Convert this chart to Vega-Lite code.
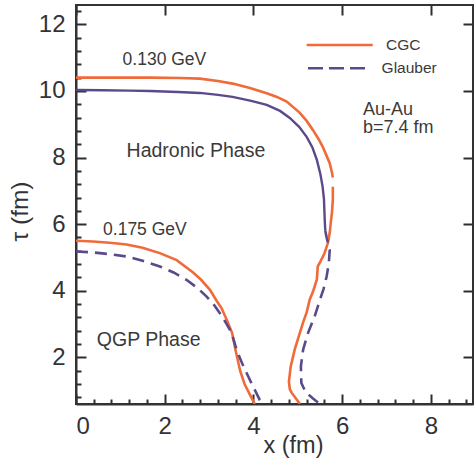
{
  "$schema": "https://vega.github.io/schema/vega-lite/v6.json",
  "width": 397,
  "height": 399,
  "autosize": "none",
  "padding": {"left": 76, "top": 5, "right": 1, "bottom": 56},
  "background": "white",
  "config": {
    "font": "Liberation Sans",
    "view": {"stroke": "#333333", "strokeWidth": 2},
    "axis": {"grid": false, "tickColor": "#2E2E2E", "tickWidth": 2, "labelColor": "#333333", "titleColor": "#333333", "titleFontWeight": "normal"}
  },
  "datasets": {
    "curves": [
      {"curve": "cgc_130a", "model": "CGC", "n": 1, "x": 0, "y": 10.4},
      {"curve": "cgc_130a", "model": "CGC", "n": 2, "x": 0.53, "y": 10.4},
      {"curve": "cgc_130a", "model": "CGC", "n": 3, "x": 1.1, "y": 10.4},
      {"curve": "cgc_130a", "model": "CGC", "n": 4, "x": 1.66, "y": 10.4},
      {"curve": "cgc_130a", "model": "CGC", "n": 5, "x": 2.34, "y": 10.39},
      {"curve": "cgc_130a", "model": "CGC", "n": 6, "x": 2.79, "y": 10.37},
      {"curve": "cgc_130a", "model": "CGC", "n": 7, "x": 3.2, "y": 10.3},
      {"curve": "cgc_130a", "model": "CGC", "n": 8, "x": 3.53, "y": 10.22},
      {"curve": "cgc_130a", "model": "CGC", "n": 9, "x": 3.92, "y": 10.09},
      {"curve": "cgc_130a", "model": "CGC", "n": 10, "x": 4.3, "y": 9.93},
      {"curve": "cgc_130a", "model": "CGC", "n": 11, "x": 4.53, "y": 9.82},
      {"curve": "cgc_130a", "model": "CGC", "n": 12, "x": 4.75, "y": 9.68},
      {"curve": "cgc_130a", "model": "CGC", "n": 13, "x": 5.04, "y": 9.35},
      {"curve": "cgc_130a", "model": "CGC", "n": 14, "x": 5.2, "y": 9.1},
      {"curve": "cgc_130a", "model": "CGC", "n": 15, "x": 5.34, "y": 8.83},
      {"curve": "cgc_130a", "model": "CGC", "n": 16, "x": 5.47, "y": 8.55},
      {"curve": "cgc_130a", "model": "CGC", "n": 17, "x": 5.56, "y": 8.33},
      {"curve": "cgc_130a", "model": "CGC", "n": 18, "x": 5.65, "y": 8.05},
      {"curve": "cgc_130a", "model": "CGC", "n": 19, "x": 5.72, "y": 7.83},
      {"curve": "cgc_130a", "model": "CGC", "n": 20, "x": 5.77, "y": 7.55},
      {"curve": "cgc_130a", "model": "CGC", "n": 21, "x": 5.79, "y": 7.4},
      {"curve": "cgc_130b", "model": "CGC", "n": 22, "x": 5.79, "y": 7.12},
      {"curve": "cgc_130b", "model": "CGC", "n": 23, "x": 5.79, "y": 6.73},
      {"curve": "cgc_130b", "model": "CGC", "n": 24, "x": 5.77, "y": 6.34},
      {"curve": "cgc_130b", "model": "CGC", "n": 25, "x": 5.74, "y": 6.0},
      {"curve": "cgc_130b", "model": "CGC", "n": 26, "x": 5.72, "y": 5.74},
      {"curve": "cgc_130b", "model": "CGC", "n": 27, "x": 5.68, "y": 5.44},
      {"curve": "cgc_130b", "model": "CGC", "n": 28, "x": 5.6, "y": 5.12},
      {"curve": "cgc_130b", "model": "CGC", "n": 29, "x": 5.5, "y": 4.85},
      {"curve": "cgc_130b", "model": "CGC", "n": 30, "x": 5.45, "y": 4.73},
      {"curve": "cgc_130b", "model": "CGC", "n": 31, "x": 5.43, "y": 4.34},
      {"curve": "cgc_130b", "model": "CGC", "n": 32, "x": 5.35, "y": 4.0},
      {"curve": "cgc_130b", "model": "CGC", "n": 33, "x": 5.27, "y": 3.74},
      {"curve": "cgc_130b", "model": "CGC", "n": 34, "x": 5.2, "y": 3.35},
      {"curve": "cgc_130b", "model": "CGC", "n": 35, "x": 5.12, "y": 3.05},
      {"curve": "cgc_130b", "model": "CGC", "n": 36, "x": 5.05, "y": 2.75},
      {"curve": "cgc_130b", "model": "CGC", "n": 37, "x": 4.93, "y": 2.23},
      {"curve": "cgc_130b", "model": "CGC", "n": 38, "x": 4.84, "y": 1.72},
      {"curve": "cgc_130b", "model": "CGC", "n": 39, "x": 4.8, "y": 1.27},
      {"curve": "cgc_130b", "model": "CGC", "n": 40, "x": 4.82, "y": 1.05},
      {"curve": "cgc_130b", "model": "CGC", "n": 41, "x": 4.86, "y": 0.94},
      {"curve": "cgc_130b", "model": "CGC", "n": 42, "x": 4.95, "y": 0.78},
      {"curve": "cgc_130b", "model": "CGC", "n": 43, "x": 5.05, "y": 0.6},
      {"curve": "cgc_175", "model": "CGC", "n": 1, "x": 0, "y": 5.5},
      {"curve": "cgc_175", "model": "CGC", "n": 2, "x": 0.38, "y": 5.48},
      {"curve": "cgc_175", "model": "CGC", "n": 3, "x": 0.76, "y": 5.44},
      {"curve": "cgc_175", "model": "CGC", "n": 4, "x": 1.14, "y": 5.39},
      {"curve": "cgc_175", "model": "CGC", "n": 5, "x": 1.5, "y": 5.29},
      {"curve": "cgc_175", "model": "CGC", "n": 6, "x": 1.89, "y": 5.13},
      {"curve": "cgc_175", "model": "CGC", "n": 7, "x": 2.27, "y": 4.92},
      {"curve": "cgc_175", "model": "CGC", "n": 8, "x": 2.64, "y": 4.55},
      {"curve": "cgc_175", "model": "CGC", "n": 9, "x": 2.82, "y": 4.33},
      {"curve": "cgc_175", "model": "CGC", "n": 10, "x": 3.02, "y": 4.03},
      {"curve": "cgc_175", "model": "CGC", "n": 11, "x": 3.17, "y": 3.7},
      {"curve": "cgc_175", "model": "CGC", "n": 12, "x": 3.28, "y": 3.48},
      {"curve": "cgc_175", "model": "CGC", "n": 13, "x": 3.4, "y": 3.12},
      {"curve": "cgc_175", "model": "CGC", "n": 14, "x": 3.52, "y": 2.73},
      {"curve": "cgc_175", "model": "CGC", "n": 15, "x": 3.6, "y": 2.2},
      {"curve": "cgc_175", "model": "CGC", "n": 16, "x": 3.7, "y": 1.6},
      {"curve": "cgc_175", "model": "CGC", "n": 17, "x": 3.8, "y": 1.2},
      {"curve": "cgc_175", "model": "CGC", "n": 18, "x": 3.92, "y": 0.88},
      {"curve": "cgc_175", "model": "CGC", "n": 19, "x": 4.03, "y": 0.6},
      {"curve": "gl_130_top", "model": "Glauber", "n": 1, "x": 0, "y": 10.03},
      {"curve": "gl_130_top", "model": "Glauber", "n": 2, "x": 0.6, "y": 10.02},
      {"curve": "gl_130_top", "model": "Glauber", "n": 3, "x": 1.2, "y": 10.01},
      {"curve": "gl_130_top", "model": "Glauber", "n": 4, "x": 1.66, "y": 10.0},
      {"curve": "gl_130_top", "model": "Glauber", "n": 5, "x": 2.3, "y": 9.97},
      {"curve": "gl_130_top", "model": "Glauber", "n": 6, "x": 2.79, "y": 9.94},
      {"curve": "gl_130_top", "model": "Glauber", "n": 7, "x": 3.2, "y": 9.88},
      {"curve": "gl_130_top", "model": "Glauber", "n": 8, "x": 3.53, "y": 9.82},
      {"curve": "gl_130_top", "model": "Glauber", "n": 9, "x": 3.95, "y": 9.7},
      {"curve": "gl_130_top", "model": "Glauber", "n": 10, "x": 4.3, "y": 9.58},
      {"curve": "gl_130_top", "model": "Glauber", "n": 11, "x": 4.6, "y": 9.4},
      {"curve": "gl_130_top", "model": "Glauber", "n": 12, "x": 4.82, "y": 9.19},
      {"curve": "gl_130_top", "model": "Glauber", "n": 13, "x": 5.03, "y": 8.92},
      {"curve": "gl_130_top", "model": "Glauber", "n": 14, "x": 5.2, "y": 8.62},
      {"curve": "gl_130_top", "model": "Glauber", "n": 15, "x": 5.33, "y": 8.3},
      {"curve": "gl_130_top", "model": "Glauber", "n": 16, "x": 5.43, "y": 7.93},
      {"curve": "gl_130_top", "model": "Glauber", "n": 17, "x": 5.51, "y": 7.5},
      {"curve": "gl_130_top", "model": "Glauber", "n": 18, "x": 5.56, "y": 7.12},
      {"curve": "gl_130_top", "model": "Glauber", "n": 19, "x": 5.59, "y": 6.75},
      {"curve": "gl_130_top", "model": "Glauber", "n": 20, "x": 5.6, "y": 6.4},
      {"curve": "gl_130_top", "model": "Glauber", "n": 21, "x": 5.61, "y": 6.05},
      {"curve": "gl_130_top", "model": "Glauber", "n": 22, "x": 5.62, "y": 5.8},
      {"curve": "gl_130_low", "model": "Glauber", "n": 1, "x": 5.62, "y": 5.8},
      {"curve": "gl_130_low", "model": "Glauber", "n": 2, "x": 5.65, "y": 5.6},
      {"curve": "gl_130_low", "model": "Glauber", "n": 3, "x": 5.72, "y": 5.23},
      {"curve": "gl_130_low", "model": "Glauber", "n": 4, "x": 5.7, "y": 4.83},
      {"curve": "gl_130_low", "model": "Glauber", "n": 5, "x": 5.65, "y": 4.43},
      {"curve": "gl_130_low", "model": "Glauber", "n": 6, "x": 5.58, "y": 4.05},
      {"curve": "gl_130_low", "model": "Glauber", "n": 7, "x": 5.5, "y": 3.73},
      {"curve": "gl_130_low", "model": "Glauber", "n": 8, "x": 5.38, "y": 3.23},
      {"curve": "gl_130_low", "model": "Glauber", "n": 9, "x": 5.23, "y": 2.73},
      {"curve": "gl_130_low", "model": "Glauber", "n": 10, "x": 5.12, "y": 2.23},
      {"curve": "gl_130_low", "model": "Glauber", "n": 11, "x": 5.07, "y": 1.73},
      {"curve": "gl_130_low", "model": "Glauber", "n": 12, "x": 5.08, "y": 1.23},
      {"curve": "gl_130_low", "model": "Glauber", "n": 13, "x": 5.18, "y": 0.95},
      {"curve": "gl_130_low", "model": "Glauber", "n": 14, "x": 5.33, "y": 0.78},
      {"curve": "gl_130_low", "model": "Glauber", "n": 15, "x": 5.5, "y": 0.6},
      {"curve": "gl_175", "model": "Glauber", "n": 1, "x": 0, "y": 5.18},
      {"curve": "gl_175", "model": "Glauber", "n": 2, "x": 0.38, "y": 5.15},
      {"curve": "gl_175", "model": "Glauber", "n": 3, "x": 0.76, "y": 5.1},
      {"curve": "gl_175", "model": "Glauber", "n": 4, "x": 1.14, "y": 5.03},
      {"curve": "gl_175", "model": "Glauber", "n": 5, "x": 1.5, "y": 4.9},
      {"curve": "gl_175", "model": "Glauber", "n": 6, "x": 1.89, "y": 4.73},
      {"curve": "gl_175", "model": "Glauber", "n": 7, "x": 2.2, "y": 4.55},
      {"curve": "gl_175", "model": "Glauber", "n": 8, "x": 2.49, "y": 4.33},
      {"curve": "gl_175", "model": "Glauber", "n": 9, "x": 2.75, "y": 4.07},
      {"curve": "gl_175", "model": "Glauber", "n": 10, "x": 2.94, "y": 3.83},
      {"curve": "gl_175", "model": "Glauber", "n": 11, "x": 3.1, "y": 3.6},
      {"curve": "gl_175", "model": "Glauber", "n": 12, "x": 3.24, "y": 3.33},
      {"curve": "gl_175", "model": "Glauber", "n": 13, "x": 3.36, "y": 3.08},
      {"curve": "gl_175", "model": "Glauber", "n": 14, "x": 3.47, "y": 2.83},
      {"curve": "gl_175", "model": "Glauber", "n": 15, "x": 3.55, "y": 2.55},
      {"curve": "gl_175", "model": "Glauber", "n": 16, "x": 3.62, "y": 2.23},
      {"curve": "gl_175", "model": "Glauber", "n": 17, "x": 3.72, "y": 1.9},
      {"curve": "gl_175", "model": "Glauber", "n": 18, "x": 3.81, "y": 1.63},
      {"curve": "gl_175", "model": "Glauber", "n": 19, "x": 3.9, "y": 1.38},
      {"curve": "gl_175", "model": "Glauber", "n": 20, "x": 3.99, "y": 1.13},
      {"curve": "gl_175", "model": "Glauber", "n": 21, "x": 4.07, "y": 0.92},
      {"curve": "gl_175", "model": "Glauber", "n": 22, "x": 4.14, "y": 0.73},
      {"curve": "gl_175", "model": "Glauber", "n": 23, "x": 4.22, "y": 0.6}
    ]
  },
  "resolve": {"axis": {"x": "independent", "y": "independent"}},
  "layer": [
    {
      "data": {"name": "curves"},
      "transform": [{"filter": "datum.model === 'CGC'"}],
      "mark": {"type": "line", "color": "#F06A3A", "strokeWidth": 2.6, "clip": true},
      "encoding": {
        "x": {"field": "x", "type": "quantitative", "scale": {"domain": [0, 8.95], "nice": false, "zero": false},
          "axis": {"orient": "bottom", "values": [0, 2, 4, 6, 8], "ticks": false, "domain": true, "domainColor": "#333333", "domainWidth": 2,
            "labelFontSize": 24, "labelPadding": 29, "labelBaseline": "alphabetic", "labelColor": "#333333",
            "title": "x (fm)", "titleColor": "#333333", "titleFontSize": 23.5, "titleX": 217, "titleY": 48, "titleAlign": "center", "titleBaseline": "alphabetic"}},
        "y": {"field": "y", "type": "quantitative", "scale": {"domain": [0.6, 12.58], "nice": false, "zero": false},
          "axis": {"orient": "left", "values": [2, 4, 6, 8, 10, 12], "ticks": false, "domain": true, "domainColor": "#333333", "domainWidth": 2,
            "labelFontSize": 24, "labelPadding": 11, "labelColor": "#333333",
            "title": "τ (fm)", "titleColor": "#333333", "titleFontSize": 24.5, "titleX": -49, "titleY": 206, "titleAngle": -90, "titleAlign": "center", "titleBaseline": "alphabetic"}},
        "detail": {"field": "curve"},
        "order": {"field": "n", "type": "quantitative"}
      }
    },
    {
      "data": {"name": "curves"},
      "transform": [{"filter": "datum.curve === 'gl_130_top'"}],
      "mark": {"type": "line", "color": "#5B4A8B", "strokeWidth": 2.4, "clip": true},
      "encoding": {
        "x": {"field": "x", "type": "quantitative", "scale": {"domain": [0, 8.95], "nice": false, "zero": false},
          "axis": {"orient": "bottom", "values": [0, 2, 4, 6, 8], "labels": false, "domain": false, "ticks": true, "tickColor": "#2E2E2E", "tickWidth": 2, "tickSize": 10, "offset": -10, "title": null}},
        "y": {"field": "y", "type": "quantitative", "scale": {"domain": [0.6, 12.58], "nice": false, "zero": false},
          "axis": {"orient": "left", "values": [2, 4, 6, 8, 10, 12], "labels": false, "domain": false, "ticks": true, "tickColor": "#2E2E2E", "tickWidth": 2, "tickSize": 10, "offset": -10, "title": null}},
        "order": {"field": "n", "type": "quantitative"}
      }
    },
    {
      "data": {"name": "curves"},
      "transform": [{"filter": "datum.curve === 'gl_130_low' || datum.curve === 'gl_175'"}],
      "mark": {"type": "line", "color": "#5B4A8B", "strokeWidth": 2.6, "strokeDash": [12, 7], "clip": true},
      "encoding": {
        "x": {"field": "x", "type": "quantitative", "scale": {"domain": [0, 8.95], "nice": false, "zero": false},
          "axis": {"orient": "bottom", "values": [0.4, 0.8, 1.2, 1.6, 2.4, 2.8, 3.2, 3.6, 4.4, 4.8, 5.2, 5.6, 6.4, 6.8, 7.2, 7.6, 8.4, 8.8], "labels": false, "domain": false, "ticks": true, "tickColor": "#2E2E2E", "tickWidth": 2, "tickSize": 5, "offset": -5, "title": null}},
        "y": {"field": "y", "type": "quantitative", "scale": {"domain": [0.6, 12.58], "nice": false, "zero": false},
          "axis": {"orient": "left", "values": [0.8, 1.2, 1.6, 2.4, 2.8, 3.2, 3.6, 4.4, 4.8, 5.2, 5.6, 6.4, 6.8, 7.2, 7.6, 8.4, 8.8, 9.2, 9.6, 10.4, 10.8, 11.2, 11.6, 12.4], "labels": false, "domain": false, "ticks": true, "tickColor": "#2E2E2E", "tickWidth": 2, "tickSize": 5, "offset": -5, "title": null}},
        "detail": {"field": "curve"},
        "order": {"field": "n", "type": "quantitative"}
      }
    },
    {
      "data": {"values": [{"label": "0.130 GeV"}]},
      "mark": {"type": "text", "align": "left", "baseline": "alphabetic", "fontSize": 17.5, "color": "#3A3A3A"},
      "encoding": {
        "x": {"datum": 1.05, "type": "quantitative", "scale": {"domain": [0, 8.95], "nice": false, "zero": false},
          "axis": {"orient": "top", "values": [0, 2, 4, 6, 8], "labels": false, "domain": false, "ticks": true, "tickColor": "#2E2E2E", "tickWidth": 2, "tickSize": 10, "offset": -10, "title": null}},
        "y": {"datum": 10.78, "type": "quantitative", "scale": {"domain": [0.6, 12.58], "nice": false, "zero": false},
          "axis": {"orient": "right", "values": [2, 4, 6, 8, 10, 12], "labels": false, "domain": false, "ticks": true, "tickColor": "#2E2E2E", "tickWidth": 2, "tickSize": 10, "offset": -10, "title": null}},
        "text": {"field": "label"}
      }
    },
    {
      "data": {"values": [{"label": "0.175 GeV"}]},
      "mark": {"type": "text", "align": "left", "baseline": "alphabetic", "fontSize": 17.5, "color": "#3A3A3A"},
      "encoding": {
        "x": {"datum": 0.61, "type": "quantitative", "axis": null},
        "y": {"datum": 5.68, "type": "quantitative", "axis": null},
        "text": {"field": "label"}
      }
    },
    {
      "data": {"values": [{"label": "Hadronic Phase"}]},
      "mark": {"type": "text", "align": "left", "baseline": "alphabetic", "fontSize": 19.5, "color": "#3A3A3A"},
      "encoding": {
        "x": {"datum": 1.14, "type": "quantitative", "axis": null},
        "y": {"datum": 8.03, "type": "quantitative", "axis": null},
        "text": {"field": "label"}
      }
    },
    {
      "data": {"values": [{"label": "QGP Phase"}]},
      "mark": {"type": "text", "align": "left", "baseline": "alphabetic", "fontSize": 19.5, "color": "#3A3A3A"},
      "encoding": {
        "x": {"datum": 0.47, "type": "quantitative", "axis": null},
        "y": {"datum": 2.33, "type": "quantitative", "axis": null},
        "text": {"field": "label"}
      }
    },
    {
      "data": {"values": [{"label": "Au-Au"}]},
      "mark": {"type": "text", "align": "left", "baseline": "alphabetic", "fontSize": 18, "color": "#3A3A3A"},
      "encoding": {
        "x": {"datum": 6.47, "type": "quantitative", "axis": null},
        "y": {"datum": 9.28, "type": "quantitative", "axis": null},
        "text": {"field": "label"}
      }
    },
    {
      "data": {"values": [{"label": "b=7.4 fm"}]},
      "mark": {"type": "text", "align": "left", "baseline": "alphabetic", "fontSize": 18, "color": "#3A3A3A"},
      "encoding": {
        "x": {"datum": 6.47, "type": "quantitative", "axis": null},
        "y": {"datum": 8.73, "type": "quantitative", "axis": null},
        "text": {"field": "label"}
      }
    },
    {
      "data": {"values": [{"label": "CGC"}]},
      "mark": {"type": "rule", "color": "#F06A3A", "strokeWidth": 2.6},
      "encoding": {
        "x": {"datum": 5.2, "type": "quantitative", "axis": null},
        "x2": {"datum": 6.69},
        "y": {"datum": 11.38, "type": "quantitative", "axis": null}
      }
    },
    {
      "data": {"values": [{"label": "CGC"}]},
      "mark": {"type": "text", "align": "left", "baseline": "middle", "fontSize": 15.5, "color": "#3A3A3A"},
      "encoding": {
        "x": {"datum": 6.99, "type": "quantitative", "axis": null},
        "y": {"datum": 11.38, "type": "quantitative", "axis": null},
        "text": {"field": "label"}
      }
    },
    {
      "data": {"values": [{"label": "Glauber"}]},
      "mark": {"type": "rule", "color": "#5B4A8B", "strokeWidth": 2.6, "strokeDash": [15, 6]},
      "encoding": {
        "x": {"datum": 5.23, "type": "quantitative", "axis": null},
        "x2": {"datum": 6.56},
        "y": {"datum": 10.68, "type": "quantitative", "axis": null}
      }
    },
    {
      "data": {"values": [{"label": "Glauber"}]},
      "mark": {"type": "text", "align": "left", "baseline": "middle", "fontSize": 15.5, "color": "#3A3A3A"},
      "encoding": {
        "x": {"datum": 6.89, "type": "quantitative", "axis": null},
        "y": {"datum": 10.68, "type": "quantitative", "axis": null},
        "text": {"field": "label"}
      }
    }
  ]
}
